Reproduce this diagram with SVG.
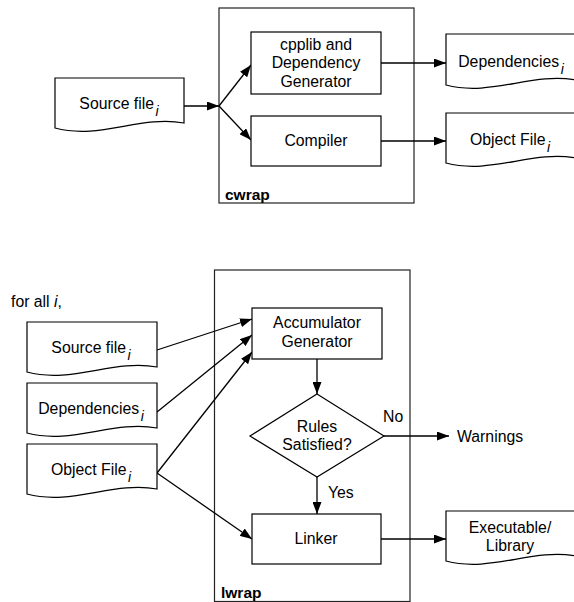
<svg xmlns="http://www.w3.org/2000/svg" width="574" height="602" viewBox="0 0 574 602">
<style>
.box{fill:#fff;stroke:#000;stroke-width:1.2}
.frame{fill:none;stroke:#222;stroke-width:1.2}
.t{font-family:"Liberation Sans",Arial,sans-serif;font-size:15.8px;fill:#000}
.c{text-anchor:middle}
.b{font-family:"Liberation Sans",Arial,sans-serif;font-size:15.5px;font-weight:bold;fill:#000}
.sub{font-style:italic;font-size:14px}
.e{fill:none;stroke:#000;stroke-width:1.3}
</style>
<defs>
<marker id="ah" markerWidth="12" markerHeight="9" refX="12" refY="4.5" orient="auto" markerUnits="userSpaceOnUse">
<path d="M0,0 L12,4.5 L0,9 Z" fill="#000"/>
</marker>
</defs>
<rect id="cwrap-frame" class="frame" x="219" y="8" width="195" height="195"/>
<text class="b" x="225" y="200">cwrap</text>
<rect id="lwrap-frame" class="frame" x="214.5" y="270" width="195.5" height="331.5"/>
<text class="b" x="221" y="598">lwrap</text>
<g id="connectors">
<line class="e" x1="184" y1="106" x2="219" y2="106" marker-end="url(#ah)"/>
<line class="e" x1="219" y1="106" x2="251" y2="65" marker-end="url(#ah)"/>
<line class="e" x1="219" y1="106" x2="251" y2="140" marker-end="url(#ah)"/>
<line class="e" x1="381" y1="63" x2="446" y2="63" marker-end="url(#ah)"/>
<line class="e" x1="381" y1="141" x2="446" y2="141" marker-end="url(#ah)"/>
<line class="e" x1="157" y1="350" x2="252" y2="319" marker-end="url(#ah)"/>
<line class="e" x1="157" y1="412" x2="252" y2="335" marker-end="url(#ah)"/>
<line class="e" x1="157" y1="473" x2="252" y2="352" marker-end="url(#ah)"/>
<line class="e" x1="157" y1="473" x2="252" y2="539" marker-end="url(#ah)"/>
<line class="e" x1="317" y1="359" x2="317" y2="394" marker-end="url(#ah)"/>
<line class="e" x1="384" y1="436" x2="449" y2="436" marker-end="url(#ah)"/>
<line class="e" x1="317" y1="477" x2="317" y2="514" marker-end="url(#ah)"/>
<line class="e" x1="381" y1="539" x2="446" y2="539" marker-end="url(#ah)"/>
<text class="t" x="383" y="422">No</text>
<text class="t" x="328" y="498">Yes</text>
</g>
<g id="source1">
<path class="box" d="M55,78 H184 V123 C140,115 100,140 55,128 Z"/>
<text class="t c" x="119" y="109">Source file<tspan class="sub" dx="1.5" dy="7">i</tspan></text>
</g>
<g id="cpplib">
<rect class="box" x="251" y="32" width="130" height="62"/>
<text class="t c" x="316" y="50">cpplib and</text>
<text class="t c" x="316" y="68">Dependency</text>
<text class="t c" x="316" y="87">Generator</text>
</g>
<g id="compiler">
<rect class="box" x="251" y="116" width="130" height="50"/>
<text class="t c" x="316" y="146">Compiler</text>
</g>
<g id="deps1">
<path class="box" d="M446,34 H576 V80 C532,72 491,97 446,85 Z"/>
<text class="t c" x="511" y="67">Dependencies<tspan class="sub" dx="1.5" dy="7">i</tspan></text>
</g>
<g id="obj1">
<path class="box" d="M446,113 H576 V158 C532,150 491,175 446,163 Z"/>
<text class="t c" x="510" y="145">Object File<tspan class="sub" dx="1.5" dy="7">i</tspan></text>
</g>
<text class="t" x="11" y="307">for all <tspan font-style="italic">i</tspan>,</text>
<g id="source2">
<path class="box" d="M27,322 H157 V367 C113,359 72,384 27,372 Z"/>
<text class="t c" x="91" y="353">Source file<tspan class="sub" dx="1.5" dy="7">i</tspan></text>
</g>
<g id="deps2">
<path class="box" d="M27,383 H157 V428 C113,420 72,445 27,433 Z"/>
<text class="t c" x="91" y="414">Dependencies<tspan class="sub" dx="1.5" dy="7">i</tspan></text>
</g>
<g id="obj2">
<path class="box" d="M27,444 H157 V489 C113,481 72,506 27,494 Z"/>
<text class="t c" x="91" y="475">Object File<tspan class="sub" dx="1.5" dy="7">i</tspan></text>
</g>
<g id="accum">
<rect class="box" x="252" y="308" width="130" height="51"/>
<text class="t c" x="317" y="328">Accumulator</text>
<text class="t c" x="317" y="347">Generator</text>
</g>
<g id="rules">
<path class="box" d="M317,394 L384,436 L317,477 L250,436 Z"/>
<text class="t c" x="317" y="432">Rules</text>
<text class="t c" x="317" y="450">Satisfied?</text>
</g>
<g id="warnings">
<text class="t" x="457" y="442">Warnings</text>
</g>
<g id="linker">
<rect class="box" x="252" y="514" width="129" height="50"/>
<text class="t c" x="316" y="544">Linker</text>
</g>
<g id="exe">
<path class="box" d="M446,511 H576 V556 C532,548 491,573 446,561 Z"/>
<text class="t c" x="510" y="533">Executable/</text>
<text class="t c" x="510" y="551">Library</text>
</g>
</svg>
